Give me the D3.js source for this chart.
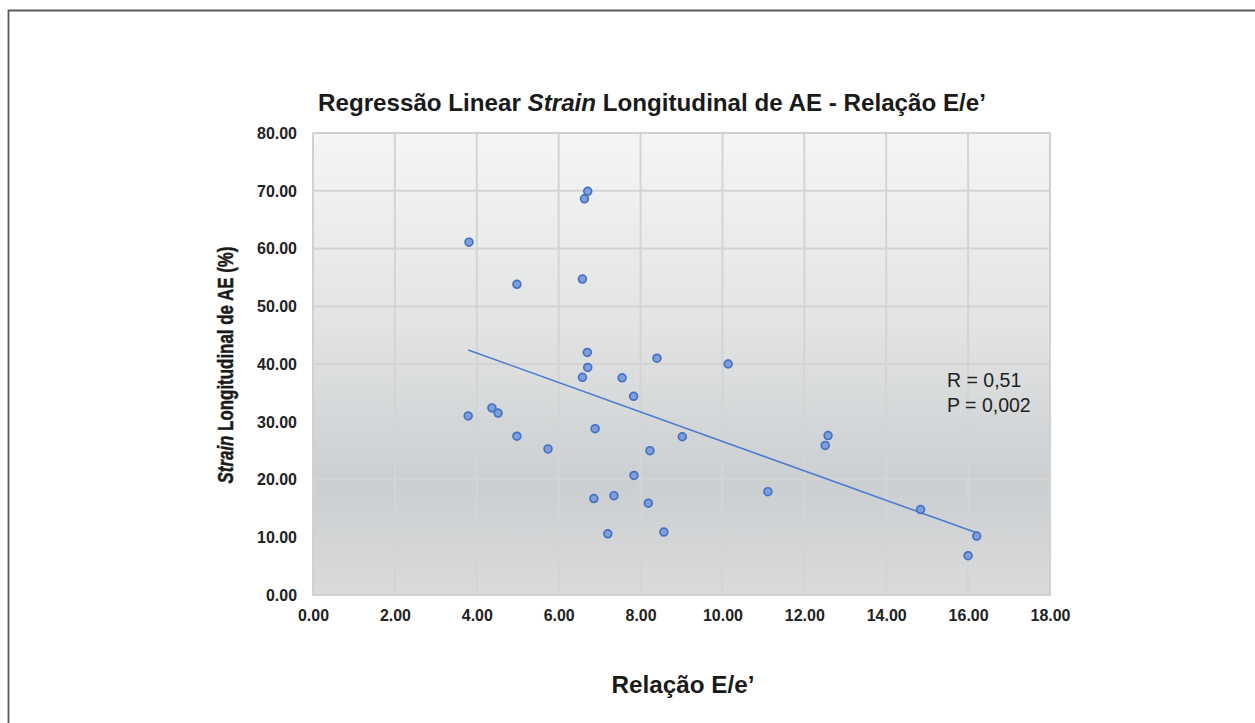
<!DOCTYPE html>
<html>
<head>
<meta charset="utf-8">
<script src="https://cdn.jsdelivr.net/npm/d3@7"></script>
<style>
  body { margin: 0; background: #fff; }
  svg text { font-family: "Liberation Sans", Arial, sans-serif; }
  .tick text { font-family: "Liberation Sans", Arial, sans-serif; font-weight: bold; font-size: 17px; fill: #222; }
</style>
</head>
<body>
<div id="chartArea"></div>
<script>
// values
let relacao = [3.81, 3.79, 4.98, 4.37, 4.52, 4.98, 5.74, 6.58, 6.63, 6.71, 6.70, 6.71, 6.58, 7.55, 7.83, 8.40, 10.14, 6.89, 9.02, 8.23, 7.84, 6.86, 7.35, 8.19, 7.20, 8.57, 11.11, 12.51, 12.58, 14.84, 16.00, 16.21]
let strain  = [61.1, 31.0, 53.8, 32.4, 31.5, 27.5, 25.3, 54.7, 68.6, 69.9, 42.0, 39.4, 37.7, 37.6, 34.4, 41.0, 40.0, 28.8, 27.4, 25.0, 20.7, 16.7, 17.2, 15.9, 10.6, 10.9, 17.9, 25.9, 27.6, 14.8, 6.8, 10.2]
let xTicks = [0, 2, 4, 6, 8, 10, 12, 14, 16, 18]
let yTicks = [0, 10, 20, 30, 40, 50, 60, 70, 80]
// linear fit
let trendIntercept = 52.1
let trendSlope = -2.55

let svgWidth = 1255
let svgHeight = 723
let plot = { left: 313, right: 1050, top: 133, bottom: 595 }

let xScale = d3.scaleLinear().domain([0, 18]).range([plot.left, plot.right])
let yScale = d3.scaleLinear().domain([0, 80]).range([plot.bottom, plot.top])

let svg = d3.select('#chartArea')
    .append('svg')
    .attr('width', svgWidth)
    .attr('height', svgHeight)

// squeeze a text horizontally so it matches the condensed type of the original
function fitWidth(sel, w) {
  sel.attr('textLength', w).attr('lengthAdjust', 'spacingAndGlyphs')
}

// outer frame (only top and left edges show)
svg.append('path')
    .attr('d', `M8.5,${svgHeight} L8.5,10.5 L${svgWidth},10.5`)
    .attr('fill', 'none')
    .attr('stroke', '#5a5a5a')
    .attr('stroke-width', 1.8)

let grad = svg.append('defs').append('linearGradient')
    .attr('id', 'bg').attr('x1', 0).attr('y1', 0).attr('x2', 0).attr('y2', 1)
grad.selectAll('stop')
    .data([[0, '#f5f5f5'], [0.4, '#e3e4e4'], [0.76, '#cbcfd2'], [1, '#dadada']])
    .enter().append('stop')
    .attr('offset', d => d[0])
    .attr('stop-color', d => d[1])

svg.append('rect')
    .attr('x', plot.left).attr('y', plot.top)
    .attr('width', plot.right - plot.left)
    .attr('height', plot.bottom - plot.top)
    .attr('fill', 'url(#bg)')

// gridlines
svg.append('g')
    .selectAll('line')
    .data(yTicks)
    .enter().append('line')
    .attr('x1', plot.left).attr('x2', plot.right)
    .attr('y1', d => yScale(d)).attr('y2', d => yScale(d))
    .attr('stroke', '#d4d4d4').attr('stroke-width', 2)

svg.append('g')
    .selectAll('line')
    .data(xTicks)
    .enter().append('line')
    .attr('y1', plot.top).attr('y2', plot.bottom)
    .attr('x1', d => xScale(d)).attr('x2', d => xScale(d))
    .attr('stroke', '#d4d4d4').attr('stroke-width', 2)

svg.append('rect')
    .attr('x', plot.left).attr('y', plot.top)
    .attr('width', plot.right - plot.left)
    .attr('height', plot.bottom - plot.top)
    .attr('fill', 'none')
    .attr('stroke', '#cfcfcf').attr('stroke-width', 1.5)

// axes, lines hidden - only labels
let yAxis = svg.append('g')
    .attr('transform', `translate(${plot.left},0)`)
    .call(d3.axisLeft(yScale).tickValues(yTicks).tickFormat(d3.format('.2f')).tickSize(0).tickPadding(16))
let xAxis = svg.append('g')
    .attr('transform', `translate(0,${plot.bottom})`)
    .call(d3.axisBottom(xScale).tickValues(xTicks).tickFormat(d3.format('.2f')).tickSize(0).tickPadding(14))
yAxis.select('.domain').remove()
xAxis.select('.domain').remove()
yAxis.selectAll('.tick text').each(function(d) {
  fitWidth(d3.select(this), d >= 10 ? 40 : 31)
})
xAxis.selectAll('.tick text').each(function(d) {
  fitWidth(d3.select(this), d >= 10 ? 40 : 31)
})

// trend line
let xExt = d3.extent(relacao)
svg.append('line')
    .attr('x1', xScale(xExt[0])).attr('y1', yScale(trendIntercept + trendSlope * xExt[0]))
    .attr('x2', xScale(xExt[1])).attr('y2', yScale(trendIntercept + trendSlope * xExt[1]))
    .attr('stroke', '#4a7bd0').attr('stroke-width', 1.6)

// points
svg.append('g')
    .selectAll('circle')
    .data(relacao.map((x, i) => [x, strain[i]]))
    .enter().append('circle')
    .attr('cx', d => xScale(d[0]))
    .attr('cy', d => yScale(d[1]))
    .attr('r', 3.9)
    .attr('fill', '#7f9fd8')
    .attr('stroke', '#4471c5')
    .attr('stroke-width', 1.7)

// annotation
let note = svg.append('text')
    .attr('x', 947).attr('y', 387)
    .attr('font-size', 19.5).attr('fill', '#222')
note.append('tspan').text('R = 0,51')
note.append('tspan').attr('x', 947).attr('dy', 25).text('P = 0,002')

// title
let title = svg.append('text')
    .attr('x', 652).attr('y', 111)
    .attr('text-anchor', 'middle')
    .attr('font-size', 23).attr('font-weight', 'bold').attr('fill', '#1a1a1a')
title.append('tspan').text('Regressão Linear ')
title.append('tspan').attr('font-style', 'italic').text('Strain')
title.append('tspan').text(' Longitudinal de AE - Relação E/e’')
fitWidth(title, 668)

// axis titles
let yTitle = svg.append('text')
    .attr('transform', `translate(233,365) rotate(-90)`)
    .attr('text-anchor', 'middle')
    .attr('font-size', 22).attr('font-weight', 'bold').attr('fill', '#1a1a1a')
    .attr('stroke', '#1a1a1a').attr('stroke-width', 0.5)
yTitle.append('tspan').attr('font-style', 'italic').text('Strain')
yTitle.append('tspan').text(' Longitudinal de AE (%)')
fitWidth(yTitle, 237)

let xTitle = svg.append('text')
    .attr('x', 683).attr('y', 693)
    .attr('text-anchor', 'middle')
    .attr('font-size', 23).attr('font-weight', 'bold').attr('fill', '#1a1a1a')
    .text('Relação E/e’')
fitWidth(xTitle, 143)
</script>
</body>
</html>
